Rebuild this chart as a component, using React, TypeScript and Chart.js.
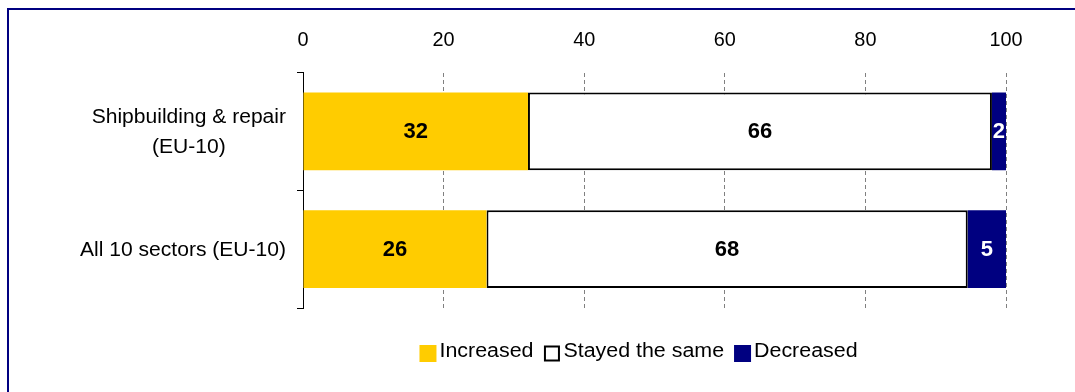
import React, { useEffect, useRef } from "react";
import { Chart, registerables } from "chart.js";

Chart.register(...registerables);

// ---- data ----
const categories: (string | string[])[] = [
  ["Shipbuilding & repair", "(EU-10)"],
  "All 10 sectors (EU-10)",
];
const seriesNames = ["Increased", "Stayed the same", "Decreased"];
const increased = [32, 26.1];
const stayedSame = [66, 68.45];
const decreased = [2, 5.45];
const xTickValues = [0, 20, 40, 60, 80, 100];

// ---- styles ----
const YELLOW = "#FFCC00";
const NAVY = "#000080";
const FONT = '"Liberation Sans", Arial, sans-serif';

function stretchText(
  ctx: CanvasRenderingContext2D,
  text: string,
  x: number,
  y: number,
  font: string,
  sx: number,
  align: CanvasTextAlign,
  color: string
) {
  ctx.save();
  ctx.font = font;
  ctx.fillStyle = color;
  ctx.textAlign = align;
  ctx.textBaseline = "alphabetic";
  ctx.translate(x, y);
  ctx.scale(sx, 1);
  ctx.fillText(text, 0, 0);
  ctx.restore();
}

const framePlugin = {
  id: "frame",
  beforeDraw(chart: any) {
    const ctx = chart.ctx as CanvasRenderingContext2D;
    ctx.save();
    ctx.fillStyle = "#ffffff";
    ctx.fillRect(0, 0, chart.width, chart.height);
    ctx.fillStyle = NAVY;
    ctx.fillRect(7, 8, chart.width, 2);
    ctx.fillRect(7, 8, 2, chart.height);
    ctx.restore();
  },
};

const textPlugin = {
  id: "texts",
  afterDraw(chart: any) {
    const ctx = chart.ctx as CanvasRenderingContext2D;
    const xs = chart.scales.x;
    const ys = chart.scales.y;
    const area = chart.chartArea;

    // x tick labels (top)
    xTickValues.forEach((v) => {
      const px = xs.getPixelForValue(v);
      stretchText(ctx, String(v), px, area.top - 27, `19.5px ${FONT}`, 1.02, "center", "#000");
    });

    // category labels
    const catFont = `19.5px ${FONT}`;
    const catSx = 1.08;
    const lineH = 30;
    const labelRight = area.left - 17;
    (chart.data.labels as (string | string[])[]).forEach((lab, i) => {
      const lines = Array.isArray(lab) ? lab : [lab];
      ctx.save();
      ctx.font = catFont;
      const blockW = Math.max(...lines.map((l) => ctx.measureText(l).width * catSx));
      ctx.restore();
      const cx = labelRight - blockW / 2;
      const cy = ys.getPixelForValue(i);
      const first = cy + 7 - ((lines.length - 1) * lineH) / 2;
      lines.forEach((l, k) => {
        stretchText(ctx, l, cx, first + k * lineH, catFont, catSx, "center", "#000");
      });
    });

    // data labels
    chart.data.datasets.forEach((ds: any, di: number) => {
      const meta = chart.getDatasetMeta(di);
      meta.data.forEach((el: any, j: number) => {
        const v = ds.data[j];
        const cx = (el.x + el.base) / 2;
        stretchText(
          ctx,
          String(Math.round(v)),
          cx,
          el.y + 7,
          `bold 22px ${FONT}`,
          1,
          "center",
          ds.labelColor
        );
      });
    });

    // legend
    const legFont = `20px ${FONT}`;
    const legSx = 1.07;
    const box = 17;
    const gapText = 3;
    const gapItem = 10;
    ctx.save();
    ctx.font = legFont;
    const widths = chart.data.datasets.map((ds: any) => ctx.measureText(ds.label).width * legSx);
    ctx.restore();
    const total =
      widths.reduce((a: number, b: number) => a + b, 0) +
      chart.data.datasets.length * (box + gapText) +
      (chart.data.datasets.length - 1) * gapItem;
    const legendCenter = (area.left + area.right) / 2 - 16;
    let lx = legendCenter - total / 2;
    const boxTop = area.bottom + 37;
    chart.data.datasets.forEach((ds: any, di: number) => {
      ctx.save();
      ctx.fillStyle = ds.backgroundColor;
      if (ds.borderWidth > 0) {
        ctx.fillRect(lx + 1.5, boxTop + 1.5, box - 3, box - 3);
        ctx.strokeStyle = ds.borderColor;
        ctx.lineWidth = 2;
        ctx.strokeRect(lx + 1.5, boxTop + 1.5, box - 3, box - 3);
      } else {
        ctx.fillRect(lx, boxTop, box, box);
      }
      ctx.restore();
      stretchText(ctx, ds.label, lx + box + gapText, boxTop + 12, legFont, legSx, "left", "#000");
      lx += box + gapText + widths[di] + gapItem;
    });
  },
};

export default function App() {
  const ref = useRef<HTMLCanvasElement | null>(null);

  useEffect(() => {
    if (!ref.current) return;
    const chart = new Chart(ref.current, {
      type: "bar",
      data: {
        labels: categories,
        datasets: [
          {
            label: seriesNames[0],
            data: increased,
            backgroundColor: YELLOW,
            borderWidth: 0,
            labelColor: "#000",
          } as any,
          {
            label: seriesNames[1],
            data: stayedSame,
            backgroundColor: "#ffffff",
            borderColor: "#000000",
            borderWidth: 2,
            borderSkipped: false,
            labelColor: "#000",
          } as any,
          {
            label: seriesNames[2],
            data: decreased,
            backgroundColor: NAVY,
            borderWidth: 0,
            labelColor: "#fff",
          } as any,
        ],
      },
      options: {
        indexAxis: "y",
        responsive: false,
        animation: false,
        devicePixelRatio: 1,
        layout: { padding: { left: 0, right: 69, top: 0, bottom: 84 } },
        datasets: {
          bar: { barPercentage: 0.662, categoryPercentage: 1 },
        },
        plugins: {
          legend: { display: false },
          tooltip: { enabled: false },
        },
        scales: {
          x: {
            position: "top",
            stacked: true,
            min: xTickValues[0],
            max: xTickValues[xTickValues.length - 1],
            ticks: { stepSize: 20, display: false },
            grid: {
              drawTicks: false,
              tickLength: 0,
              color: (c: any) => (c.tick && c.tick.value === 0 ? "rgba(0,0,0,0)" : "#808080"),
              lineWidth: 1,
            },
            border: { display: false, dash: [4, 3] },
            afterFit: (s: any) => {
              s.height = 72.5;
            },
          },
          y: {
            stacked: true,
            ticks: { display: false },
            grid: {
              offset: true,
              drawOnChartArea: false,
              drawTicks: true,
              tickLength: 6,
              color: "#000",
            },
            border: { display: true, color: "#000", width: 1 },
            afterFit: (s: any) => {
              s.width = 303;
            },
          },
        },
      } as any,
      plugins: [framePlugin, textPlugin],
    });
    return () => chart.destroy();
  }, []);

  return (
    <canvas
      ref={ref}
      width={1075}
      height={392}
      style={{ position: "fixed", left: 0, top: 0, width: 1075, height: 392 }}
    />
  );
}
